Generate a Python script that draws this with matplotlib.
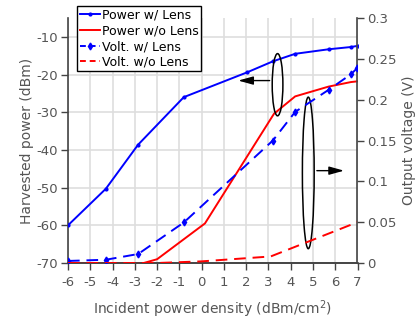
import matplotlib
matplotlib.use("Agg")
import matplotlib.pyplot as plt
from matplotlib.patches import Ellipse
from matplotlib.lines import Line2D

plt.rcParams['font.family'] = ['DejaVu Sans']
plt.rcParams['axes.unicode_minus'] = False

# Data
pw_x = [-6, -4.3, -2.85, -0.8, 2.05, 3.2, 4.2, 5.7, 6.7, 7]
pw_y = [-60, -50.3, -38.6, -26.0, -19.4, -16.5, -14.5, -13.3, -12.7, -12.4]

pwo_x = [-6, -2.6, -2.0, 0.15, 3.25, 4.2, 5.7, 6.7, 7]
pwo_y = [-70, -70, -69, -59.5, -30.4, -25.8, -23.2, -22.0, -21.8]

vw_x = [-6, -4.3, -2.85, -0.8, 3.2, 4.2, 5.7, 6.7, 7]
vw_y = [0.0025, 0.004, 0.011, 0.0496, 0.150, 0.185, 0.212, 0.231, 0.239]

vwo_x = [-6, -2, 0, 3.1, 7]
vwo_y = [0, 0, 0.002, 0.008, 0.05]

x_ticks = list(range(-6, 8))
left_ticks = [-70, -60, -50, -40, -30, -20, -10]
right_ticks = [0, 0.05, 0.1, 0.15, 0.2, 0.25, 0.3]
right_labels = ['0', '0.05', '0.1', '0.15', '0.2', '0.25', '0.3']
labels = ['Power w/ Lens', 'Power w/o Lens', 'Volt. w/ Lens', 'Volt. w/o Lens']

BLUE = '#0000ff'
RED = '#ff0000'
SPINE = '#444444'
TXT = '#555555'

fig = plt.figure(figsize=(4.17, 3.2), dpi=100)
ax = fig.add_axes([68/417, 1-263/320, (357.5-68)/417, (263-18)/320])
ax2 = ax.twinx()

lw = 1.4
ax.plot(pw_x, pw_y, color=BLUE, lw=lw, marker='o', ms=2, zorder=3)
ax.plot(pwo_x, pwo_y, color=RED, lw=lw, zorder=3)
ax2.plot(vw_x, vw_y, color=BLUE, lw=lw, dashes=(6, 3.5), marker='d', ms=3.5, zorder=3)
ax2.plot(vwo_x, vwo_y, color=RED, lw=lw, dashes=(6, 3.5), zorder=3)

ax.set_xlim(-6, 7)
ax.set_ylim(-70, -5)
ax2.set_ylim(0, 0.3)

ax.set_xticks(x_ticks)
ax.set_xticklabels([str(v) for v in x_ticks])
ax.set_yticks(left_ticks)
ax.set_yticklabels([str(v) for v in left_ticks])
ax2.set_yticks(right_ticks)
ax2.set_yticklabels(right_labels)

ax.grid(True, color='#dedede', lw=1.2)
ax.set_axisbelow(True)

for a in (ax, ax2):
    a.spines['top'].set_visible(False)
    for s in ('left', 'right', 'bottom'):
        a.spines[s].set_color(SPINE)
        a.spines[s].set_linewidth(1.2)
    a.tick_params(direction='out', length=5, width=1, color=SPINE,
                  labelcolor=TXT, labelsize=9.5, pad=2)
ax.tick_params(axis='x', pad=4)
ax2.spines['left'].set_visible(False)
ax.spines['right'].set_visible(False)

ax.set_xlabel('Incident power density (dBm/cm$^2$)', fontsize=10, color=TXT, labelpad=7)
ax.set_ylabel('Harvested power (dBm)', fontsize=10, color=TXT, labelpad=2)
ax2.set_ylabel('Output voltage (V)', fontsize=10, color=TXT, labelpad=4)

# Annotation ellipses and arrows (in left-axis data coordinates)
e1 = Ellipse((3.41, -22.7), 0.48, 16.5, fill=False, edgecolor='k', lw=1.1, zorder=5)
e2 = Ellipse((4.79, -46.1), 0.53, 40.2, fill=False, edgecolor='k', lw=1.1, zorder=5)
ax.add_patch(e1)
ax.add_patch(e2)
ax.annotate('', xy=(1.52, -21.6), xytext=(3.18, -21.6),
            arrowprops=dict(arrowstyle='-|>,head_length=0.9,head_width=0.25', color='k', lw=1),
            zorder=6)
ax.annotate('', xy=(6.52, -45.5), xytext=(5.05, -45.5),
            arrowprops=dict(arrowstyle='-|>,head_length=0.9,head_width=0.25', color='k', lw=1),
            zorder=6)

handles = [
    Line2D([], [], color=BLUE, lw=lw, marker='o', ms=2),
    Line2D([], [], color=RED, lw=lw),
    Line2D([], [], color=BLUE, lw=lw, dashes=(3, 2), marker='d', ms=3.5),
    Line2D([], [], color=RED, lw=lw, dashes=(3, 2)),
]
leg = fig.legend(handles, labels, loc='upper left', bbox_to_anchor=(77/417, 1-6/320),
                 fontsize=9, frameon=True, fancybox=False, framealpha=1,
                 edgecolor='k', handlelength=1.6, handletextpad=0.2,
                 labelspacing=0.22, borderpad=0.2, borderaxespad=0)
leg.get_frame().set_linewidth(1.0)
leg.set_zorder(10)

fig.savefig('out.png', dpi=100)
